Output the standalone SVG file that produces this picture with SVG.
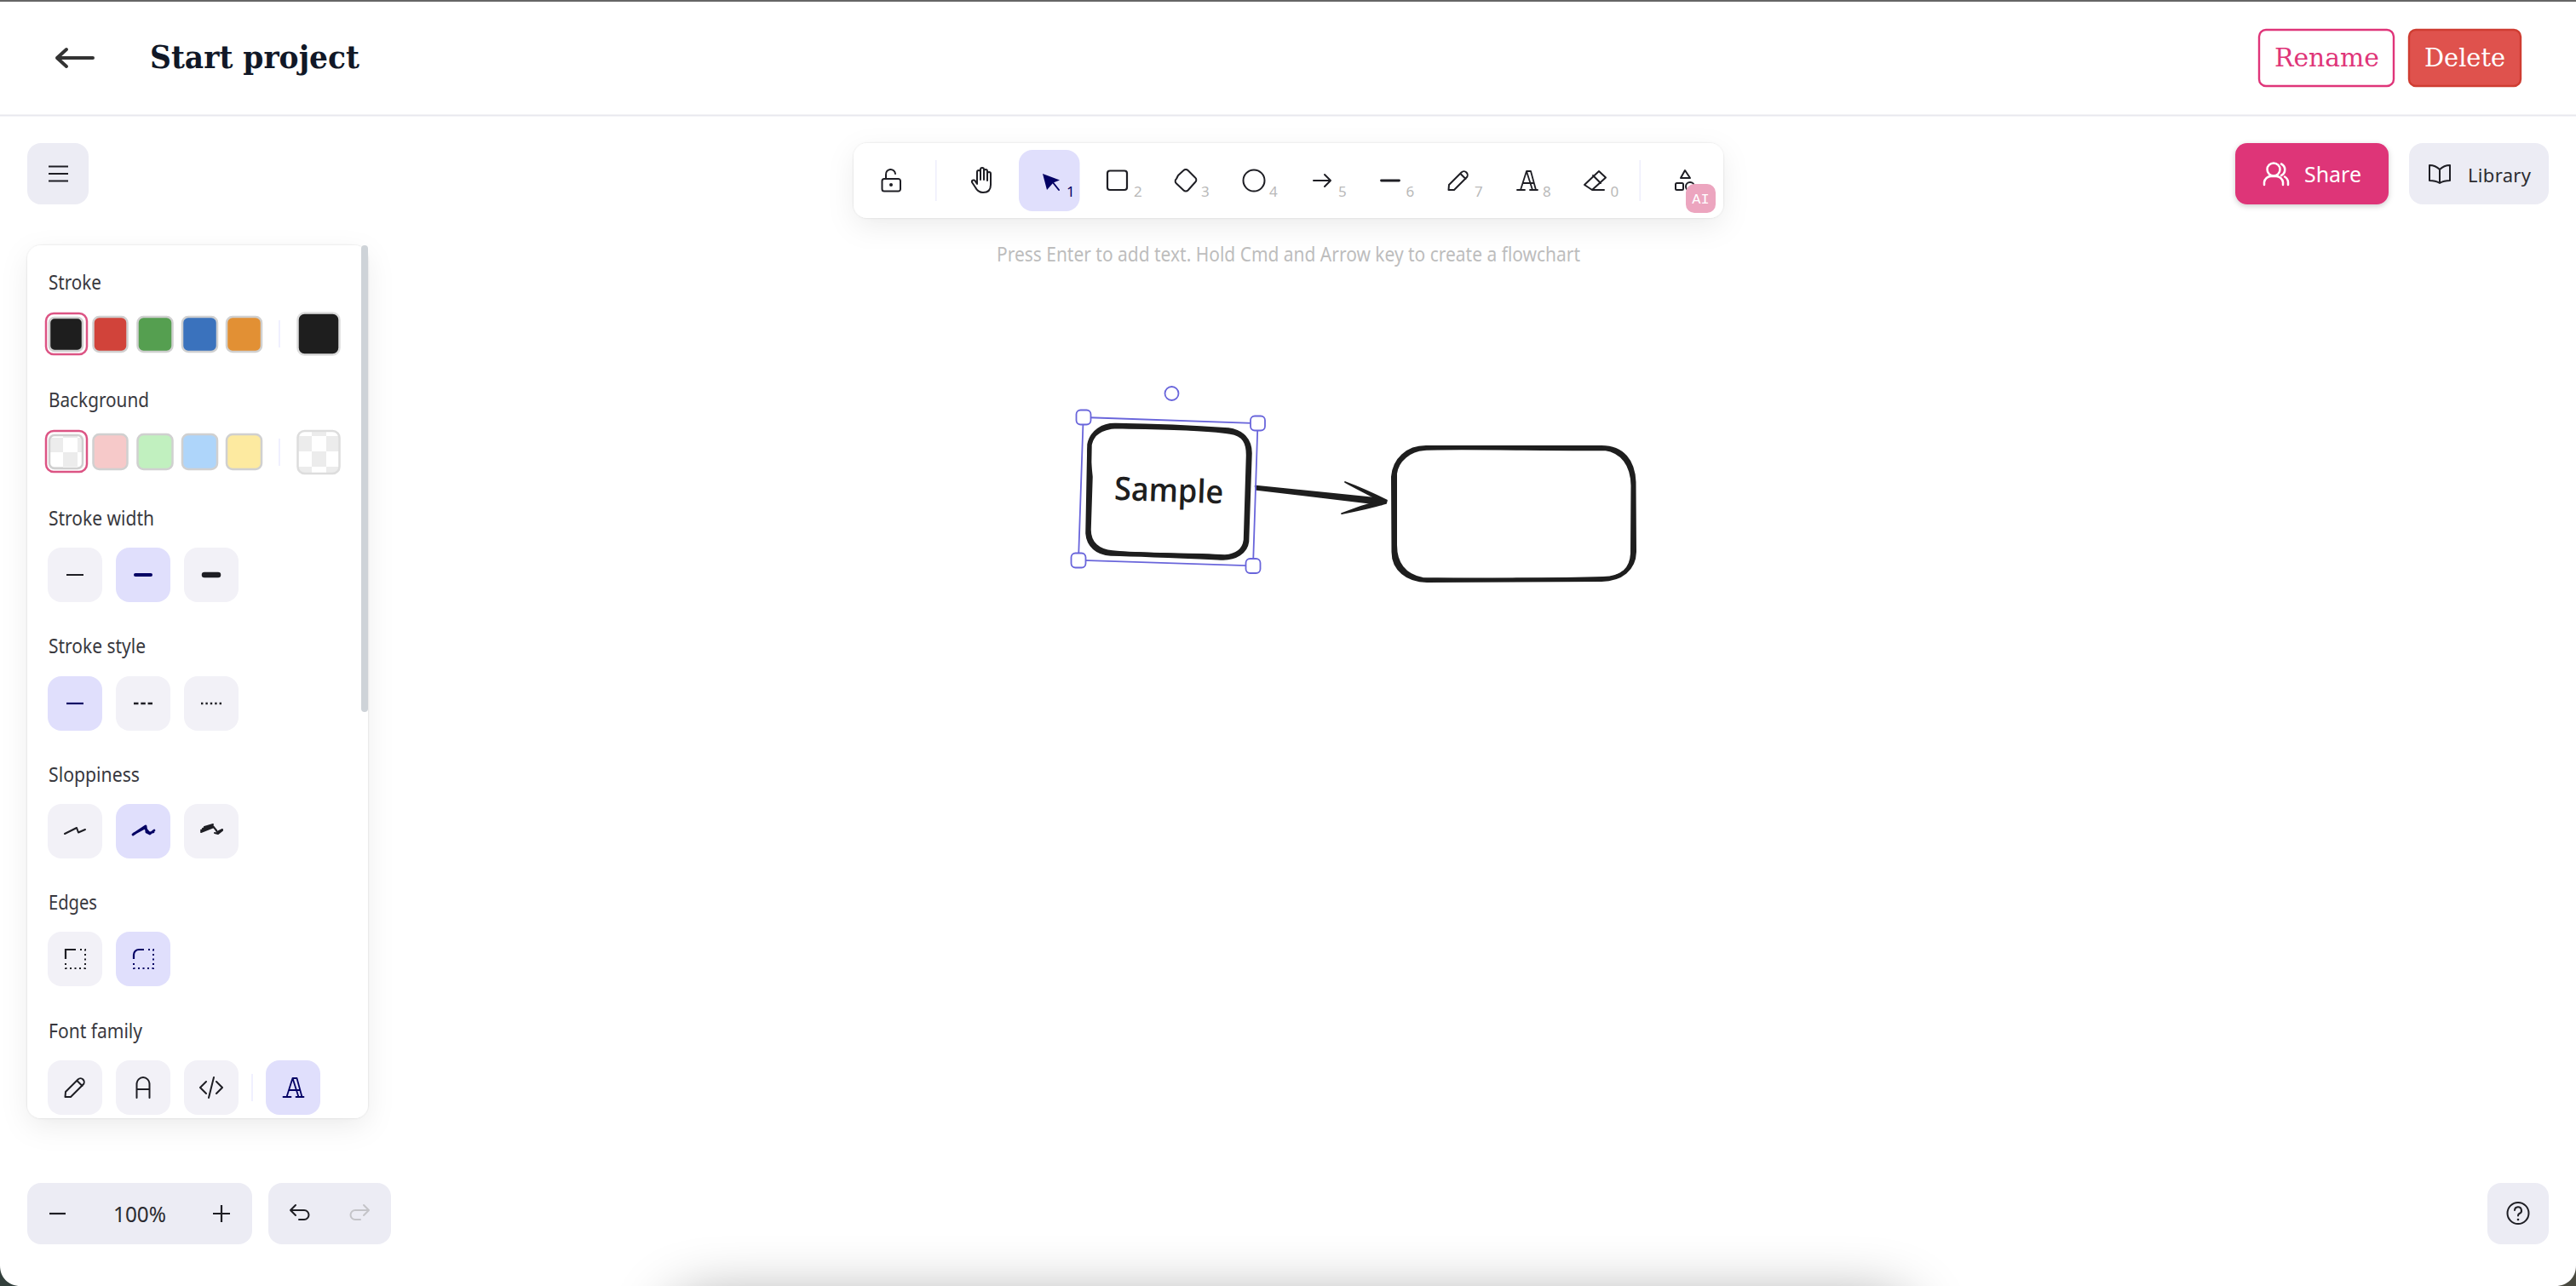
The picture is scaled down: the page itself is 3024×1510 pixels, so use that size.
<svg xmlns="http://www.w3.org/2000/svg" xmlns:xlink="http://www.w3.org/1999/xlink" width="3024" height="1510" viewBox="0 0 3024 1510">
<style>
text{font-family:"Noto Sans","Liberation Sans",sans-serif}
.lbl{font-size:23.5px;fill:#38383e}
.num{font-size:17px;fill:#b9b9b9}
.srf{font-family:"DejaVu Serif","Liberation Serif",serif;font-size:29px}
.btn{fill:#f2f1f7}
.on{fill:#e0dffc}
.gry{fill:#ececf4}
.sw{stroke:#d0d0d0;stroke-width:2.5}
.ic{fill:none;stroke:#1e1e24;stroke-width:2;stroke-linecap:round;stroke-linejoin:round}
.nv{stroke:#030064}
.ink{fill:none;stroke:#1e1e1e;stroke-linecap:round;stroke-linejoin:round}
.sel{fill:#fff;stroke:#6965db;stroke-width:1.8}
.sl{fill:none;stroke:#6965db;stroke-width:1.8}
</style>
<defs>
<filter id="sh" x="-30%" y="-30%" width="160%" height="170%"><feDropShadow dx="0" dy="10" stdDeviation="16" flood-color="#000" flood-opacity="0.07"/><feDropShadow dx="0" dy="0" stdDeviation="1.2" flood-color="#000" flood-opacity="0.14"/></filter>
<filter id="sh2" x="-20%" y="-20%" width="140%" height="150%"><feDropShadow dx="0" dy="2" stdDeviation="3" flood-color="#000" flood-opacity="0.2"/></filter>
<filter id="bl" filterUnits="userSpaceOnUse" x="500" y="1250" width="2020" height="600"><feGaussianBlur stdDeviation="36 34"/></filter>
<pattern id="ch1" patternUnits="userSpaceOnUse" x="57" y="514" width="34" height="34"><rect width="34" height="34" fill="#fff"/><rect width="17" height="17" fill="#ececec"/><rect x="17" y="17" width="17" height="17" fill="#ececec"/></pattern>
<pattern id="ch2" patternUnits="userSpaceOnUse" x="349" y="512" width="34" height="36"><rect width="34" height="36" fill="#fff"/><rect width="17" height="18" fill="#ececec"/><rect x="17" y="18" width="17" height="18" fill="#ececec"/></pattern>
<g id="iA" fill="none" stroke="currentColor" stroke-width="1.800" stroke-linecap="round" stroke-linejoin="round"><path d="M-12,11H-3M3,11H12M-8,11L-1,-11H4L10,11M-1,-11L6,11M-5,3H7"/></g>
<g id="iP" fill="none" stroke="currentColor" stroke-width="2" stroke-linecap="round" stroke-linejoin="round"><path d="M-11,11L-10.500,5L4,-9.500A3.800,3.800 0 0 1 10,-3.500L-4.500,11ZM3,-8L9,-2"/></g>
</defs>
<rect width="3024" height="1510" fill="#fff"/>
<rect x="0" y="0" width="3024" height="2" fill="#666"/>
<rect x="0" y="134.500" width="3024" height="2" fill="#e8e8ee"/>
<rect x="790" y="1522" width="1450" height="200" rx="30" fill="#000" opacity="0.34" filter="url(#bl)"/>
<path d="M0,1486C0,1500 10,1510 24,1510L0,1510Z" fill="#33403c"/>
<path d="M3024,1486C3024,1500 3014,1510 3000,1510L3024,1510Z" fill="#4a4a40"/>

<g id="header">
<path d="M109,68H67M78,58L67,68L78,78" fill="none" stroke="#333" stroke-width="4" stroke-linecap="round" stroke-linejoin="round"/>
<text x="176" y="80" font-weight="700" font-size="36.500" fill="#111827" textLength="246" lengthAdjust="spacingAndGlyphs" style="font-family:'DejaVu Serif','Liberation Serif',serif">Start project</text>
<rect x="2652" y="35" width="158" height="66" rx="8" fill="#fff" stroke="#df3579" stroke-width="2.400"/>
<text class="srf" x="2670" y="78" fill="#df3579" textLength="123" lengthAdjust="spacingAndGlyphs">Rename</text>
<rect x="2828" y="35" width="131" height="66" rx="8" fill="#df524d" stroke="#cf3d32" stroke-width="2.400"/>
<text class="srf" x="2846" y="78" fill="#fff" textLength="95" lengthAdjust="spacingAndGlyphs">Delete</text>
</g>

<g id="menu-button">
<rect class="gry" x="32" y="168" width="72" height="72" rx="16"/>
<path d="M57,195.500H80M57,204H80M57,212.500H80" stroke="#1e1e24" stroke-width="1.800" fill="none"/>
</g>

<g id="share-button">
<rect x="2624" y="168" width="180" height="72" rx="14" fill="#de3478" filter="url(#sh2)"/>
<g fill="none" stroke="#fff" stroke-width="2.500" stroke-linecap="round"><circle cx="2669" cy="199" r="7.500"/><path d="M2658,217V214A8,8 0 0 1 2666,207H2672A8,8 0 0 1 2680,214V217M2678,192.500A7.500,7.500 0 0 1 2678,206M2686,217V214A8,8 0 0 0 2682,207.500"/></g>
<text x="2705" y="214" font-size="26" fill="#fff" textLength="67" lengthAdjust="spacingAndGlyphs">Share</text>
</g>
<g id="library-button">
<rect class="gry" x="2828" y="168" width="164" height="72" rx="16"/>
<path class="ic" d="M2864,199Q2859,194 2852,194V212Q2859,212 2864,215Q2869,212 2876,212V194Q2869,194 2864,199ZM2864,199V215"/>
<text x="2897" y="214" font-size="22" fill="#2b2b30" textLength="74" lengthAdjust="spacing">Library</text>
</g>

<g id="toolbar">
<rect x="1002" y="168" width="1021" height="88" rx="16" fill="#fff" filter="url(#sh)"/>
<rect class="on" x="1196" y="176" width="71.500" height="72" rx="16"/>
<path class="ic" d="M1040,210V205A5.500,5.500 0 0 1 1051,204M1038,210H1054A2.500,2.500 0 0 1 1057,212.500V222A2.500,2.500 0 0 1 1054,224.500H1038A2.500,2.500 0 0 1 1035.500,222V212.500A2.500,2.500 0 0 1 1038,210Z"/>
<circle cx="1046" cy="217" r="2" fill="#1e1e24"/>
<rect x="1098" y="188" width="1.500" height="48" fill="#eeeefc"/>
<path class="ic" d="M1141,214L1145,220Q1148,226 1154,226Q1163,226 1163,217V204A2,2 0 0 0 1159,204V212V201A2,2 0 0 0 1155,201V211V199A2,2 0 0 0 1151,199V211V202A2,2 0 0 0 1147,202V216L1145,213A2,2 0 0 0 1141,214Z"/>
<path d="M1224,204L1244,211.500L1236.500,214.500L1229,223Z" fill="#030064"/>
<path d="M1235,213L1243,223" stroke="#030064" stroke-width="2" stroke-linecap="round"/>
<text x="1252" y="231" class="num" style="fill:#030064">1</text>
<rect class="ic" x="1300" y="200.500" width="23" height="22.500" rx="3" style="stroke-width:2.200"/>
<text x="1331" y="231" class="num">2</text>
<path class="ic" d="M1383,206L1389.500,200A3.500,3.500 0 0 1 1394.500,200L1403,208.500A3.500,3.500 0 0 1 1403,214L1394.500,223.500A3.500,3.500 0 0 1 1389.500,223.500L1381,215.500A3.500,3.500 0 0 1 1381,210Z"/>
<text x="1410" y="231" class="num">3</text>
<circle class="ic" cx="1472" cy="212" r="12.500"/>
<text x="1490" y="231" class="num">4</text>
<path class="ic" d="M1542,212H1562M1555,205L1562,212L1555,219"/>
<text x="1571" y="231" class="num">5</text>
<path class="ic" d="M1621.500,212H1642.500" style="stroke-width:2.800"/>
<text x="1650.500" y="231" class="num">6</text>
<use href="#iP" x="1711.500" y="212" color="#1e1e24"/>
<text x="1731" y="231" class="num">7</text>
<use href="#iA" x="1793" y="212" color="#1e1e24"/>
<text x="1811" y="231" class="num">8</text>
<path class="ic" d="M1860,217L1877,201L1885,208.500L1869,223ZM1870,206L1879,215M1869,223H1883"/>
<text x="1890.500" y="231" class="num">0</text>
<rect x="1924.500" y="188" width="1.500" height="48" fill="#eeeefc"/>
<path class="ic" d="M1973,209L1978,200L1984,209Z"/>
<rect class="ic" x="1967" y="215" width="9" height="8" rx="1.500"/>
<circle class="ic" cx="1984" cy="219" r="5"/>
<rect x="1979" y="216" width="35" height="34" rx="10" fill="#eca5bf"/>
<text x="1996.500" y="239" font-size="17" fill="#fff" text-anchor="middle" style="font-family:'Liberation Mono',monospace">AI</text>
</g>
<text id="hint" x="1170" y="307" font-size="23.500" fill="#bdbdbd" textLength="685" lengthAdjust="spacingAndGlyphs">Press Enter to add text. Hold Cmd and Arrow key to create a flowchart</text>

<g id="props-panel">
<rect x="32" y="288" width="400" height="1025" rx="16" fill="#fff" filter="url(#sh)"/>
<rect x="424" y="288" width="8" height="548" rx="4" fill="#ced3d8"/>
<text class="lbl" x="57" y="340" textLength="62" lengthAdjust="spacingAndGlyphs">Stroke</text>
<rect x="54" y="368" width="48" height="48" rx="9" fill="#fff" stroke="#dc5484" stroke-width="2.500"/>
<rect class="sw" x="58" y="373" width="39" height="39" rx="6" fill="#1e1e1e"/>
<rect class="sw" x="109.500" y="372" width="40" height="41" rx="7" fill="#d1433a"/>
<rect class="sw" x="161.500" y="372" width="41" height="41" rx="7" fill="#559f50"/>
<rect class="sw" x="214" y="372" width="41" height="41" rx="7" fill="#3a72bd"/>
<rect class="sw" x="266" y="372" width="41" height="41" rx="7" fill="#e29034"/>
<rect x="327" y="376" width="2" height="32" fill="#f0f0ff"/>
<rect class="sw" x="349.500" y="367.500" width="49" height="49" rx="8" fill="#1e1e1e" style="stroke:#ddd"/>

<text class="lbl" x="57" y="478" textLength="118" lengthAdjust="spacingAndGlyphs">Background</text>
<rect x="54" y="506" width="48" height="48" rx="9" fill="#fff" stroke="#dc5484" stroke-width="2.500"/>
<rect class="sw" x="58" y="511" width="39" height="39" rx="6" fill="url(#ch1)"/>
<rect class="sw" x="109.500" y="510" width="40" height="41" rx="7" fill="#f6c9c9"/>
<rect class="sw" x="161.500" y="510" width="41" height="41" rx="7" fill="#c1f0bf"/>
<rect class="sw" x="214" y="510" width="41" height="41" rx="7" fill="#aed5fa"/>
<rect class="sw" x="266" y="510" width="41" height="41" rx="7" fill="#fdeaa0"/>
<rect x="327" y="515" width="2" height="32" fill="#f0f0ff"/>
<rect class="sw" x="349.500" y="506" width="49" height="50" rx="8" fill="url(#ch2)" style="stroke:#ddd"/>

<text class="lbl" x="57" y="617" textLength="124" lengthAdjust="spacingAndGlyphs">Stroke width</text>
<rect class="btn" x="56" y="643" width="64" height="64" rx="16"/>
<rect class="on" x="136" y="643" width="64" height="64" rx="16"/>
<rect class="btn" x="216" y="643" width="64" height="64" rx="16"/>
<path d="M78,675H98" stroke="#1e1e24" stroke-width="2"/>
<path d="M159,675H177" stroke="#030064" stroke-width="4" stroke-linecap="round"/>
<path d="M240,675H256" stroke="#1e1e24" stroke-width="6.500" stroke-linecap="round"/>

<text class="lbl" x="57" y="767" textLength="114" lengthAdjust="spacingAndGlyphs">Stroke style</text>
<rect class="on" x="56" y="794" width="64" height="64" rx="16"/>
<rect class="btn" x="136" y="794" width="64" height="64" rx="16"/>
<rect class="btn" x="216" y="794" width="64" height="64" rx="16"/>
<path d="M78,826H98" stroke="#030064" stroke-width="2.200"/>
<path d="M157,826H179" stroke="#1e1e24" stroke-width="2.600" stroke-dasharray="5.500 2.800"/>
<path d="M236,826H260" stroke="#1e1e24" stroke-width="2.600" stroke-dasharray="2.400 3"/>

<text class="lbl" x="57" y="918" textLength="107" lengthAdjust="spacingAndGlyphs">Sloppiness</text>
<rect class="btn" x="56" y="944" width="64" height="64" rx="16"/>
<rect class="on" x="136" y="944" width="64" height="64" rx="16"/>
<rect class="btn" x="216" y="944" width="64" height="64" rx="16"/>
<path class="ic" d="M76,979L90,972L92,977.500L100,974"/>
<path class="ic nv" style="stroke-width:2.800" d="M156,980L171,970L172,977L176,979L181,975M157,979L170,972L175,978L180,977"/>
<path class="ic" style="stroke-width:2" d="M236,975L250,970M236,977L251,971L255,977L261,974M238,973L249,969L254,975M252,978L256,979L261,975M240,971L250,968"/>

<text class="lbl" x="57" y="1068" textLength="57" lengthAdjust="spacingAndGlyphs">Edges</text>
<rect class="btn" x="56" y="1094" width="64" height="64" rx="16"/>
<rect class="on" x="136" y="1094" width="64" height="64" rx="16"/>
<path d="M77,1126V1115H89" fill="none" stroke="#1e1e24" stroke-width="2.200"/>
<path d="M94,1115H100V1137H77V1130" fill="none" stroke="#1e1e24" stroke-width="2" stroke-dasharray="2 3.500"/>
<path d="M157,1126V1121A6,6 0 0 1 163,1115H169" fill="none" stroke="#030064" stroke-width="2.200"/>
<path d="M174,1115H180V1137H157V1130" fill="none" stroke="#030064" stroke-width="2" stroke-dasharray="2 3.500"/>

<text class="lbl" x="57" y="1219" textLength="110" lengthAdjust="spacingAndGlyphs">Font family</text>
<rect class="btn" x="56" y="1245" width="64" height="64" rx="16"/>
<rect class="btn" x="136" y="1245" width="64" height="64" rx="16"/>
<rect class="btn" x="216" y="1245" width="64" height="64" rx="16"/>
<rect x="295" y="1261" width="2" height="32" fill="#f0f0ff"/>
<rect class="on" x="312" y="1245" width="64" height="64" rx="16"/>
<use href="#iP" x="87.500" y="1277" color="#1e1e24"/>
<path class="ic" d="M160.500,1289V1273A7.500,8 0 0 1 175.500,1273V1289M160.500,1279H175.500"/>
<path class="ic" d="M242,1270L235,1277L242,1284M254,1270L261,1277L254,1284M251,1265L245,1289"/>
<use href="#iA" x="344.500" y="1277" color="#030064"/>
</g>

<g id="zoom-controls">
<rect class="gry" x="32" y="1389" width="264" height="72" rx="16"/>
<path d="M58,1425H77" stroke="#1e1e24" stroke-width="2.200"/>
<text x="164" y="1435" font-size="25" fill="#2b2b30" text-anchor="middle" textLength="62" lengthAdjust="spacingAndGlyphs">100%</text>
<path d="M250,1425H270M260,1415V1435" stroke="#1e1e24" stroke-width="2.200"/>
</g>
<g id="history-controls">
<rect class="gry" x="315" y="1389" width="144" height="72" rx="16"/>
<path class="ic" d="M347,1415L341,1421L347,1427M341,1421H357A5.500,5.500 0 0 1 357,1432H351"/>
<path class="ic" style="stroke:#c4c4c8" d="M427,1415L433,1421L427,1427M433,1421H417A5.500,5.500 0 0 0 417,1432H423"/>
</g>
<g id="help-button">
<rect class="gry" x="2920" y="1389" width="72" height="72" rx="16"/>
<circle class="ic" cx="2956" cy="1424.500" r="12.500"/>
<path class="ic" d="M2952,1421A4,4 0 1 1 2957.500,1425C2956.500,1425.500 2956,1426.500 2956,1427.500"/>
<circle cx="2956" cy="1432" r="1.300" fill="#1e1e24"/>
</g>

<g id="connectors">
<path class="ink" fill="#1e1e1e" style="fill:#1e1e1e" stroke-width="2.500" d="M1474,571L1622,586L1622,592L1475,574.500Z"/>
<path class="ink" style="fill:#1e1e1e" stroke-width="1.800" d="M1579,566C1598,573 1615,581 1628,587.500L1627,591C1610,596 1592,600 1575,603C1590,597 1605,592 1620,588C1606,580 1591,573 1579,566Z"/>
</g>

<g id="node-sample">
<path class="ink" stroke-width="5.500" d="M1279,522C1282,507 1295,499 1310,499.500C1350,500 1400,502 1442,505C1458,507 1467,517 1467,532L1463.500,636C1462,648 1450,655 1436,655C1390,653 1345,651 1304,650C1288,649 1278,640 1277,626Z"/>
<path class="ink" stroke-width="3.500" d="M1278,530C1279,510 1293,502 1312,501.500C1360,503 1410,503 1444,508C1460,510 1465,520 1464.500,536L1461.500,634C1460,646 1452,652 1438,653C1390,650 1340,652 1306,648C1290,647 1279,638 1279,622L1281,560Z"/>
<text x="1308" y="589" font-size="38" font-weight="600" fill="#1e1e1e" textLength="128" lengthAdjust="spacingAndGlyphs" transform="rotate(2 1372 580)" style="font-family:'Open Sans',sans-serif">Sample</text>
</g>
<g id="selection">
<path class="sl" d="M1271.700,490L1476.500,497L1471,664.300L1266,657.700Z"/>
<rect class="sel" x="1263.500" y="481.500" width="17" height="17" rx="5"/>
<rect class="sel" x="1468" y="488.500" width="17" height="17" rx="5"/>
<rect class="sel" x="1257.500" y="649.500" width="17" height="17" rx="5"/>
<rect class="sel" x="1462.500" y="656" width="17" height="17" rx="5"/>
<circle class="sel" cx="1375.500" cy="462" r="8"/>
</g>
<g id="node-empty">
<path class="ink" stroke-width="5" d="M1674,525.500H1880C1905,525.500 1917,542 1918,566L1918.500,648C1918,668 1903,680 1880,680.500L1675,681.500C1652,681 1636,668 1636,648L1635.500,560C1637,540 1652,525.500 1674,525.500Z"/>
<path class="ink" stroke-width="4" d="M1672,527C1700,525 1840,528 1884,527C1904,530 1916,545 1916.500,570L1916,650C1915,668 1905,678 1882,679C1830,681 1720,681 1670,680C1650,676 1638,664 1638,640L1638,556C1640,540 1655,528 1672,527Z"/>
</g>
</svg>
